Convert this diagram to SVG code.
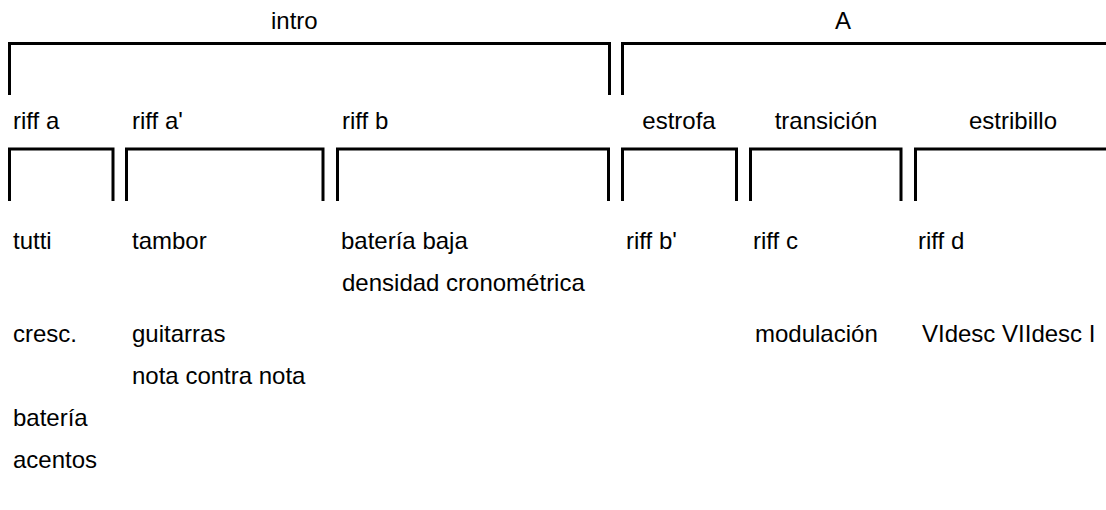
<svg xmlns="http://www.w3.org/2000/svg" width="1106" height="510" viewBox="0 0 1106 510">
  <style>
    .br { fill: none; stroke: #000; stroke-width: 3; stroke-linecap: butt; stroke-linejoin: miter; }
    text { font-family: "Liberation Sans", Arial, sans-serif; font-size: 24px; fill: #000; }
    .mid { text-anchor: middle; }
  </style>
  <rect width="1106" height="510" fill="#fff"/>

  <!-- section level -->
  <g id="sec-intro">
    <text x="271" y="29">intro</text>
    <path class="br" d="M9.5,95 V43.5 H609.5 V95"/>
  </g>
  <g id="sec-A">
    <text x="835" y="29">A</text>
    <path class="br" d="M622.5,95 V43.5 H1106"/>
  </g>

  <!-- part level -->
  <g id="riff-a">
    <text x="13" y="129">riff a</text>
    <path class="br" d="M9.5,201 V149 H113 V201"/>
    <text x="13" y="249">tutti</text>
    <text x="13" y="342">cresc.</text>
    <text x="13" y="426">batería</text>
    <text x="13" y="468">acentos</text>
  </g>
  <g id="riff-a-prime">
    <text x="132" y="129">riff a'</text>
    <path class="br" d="M126.5,201 V149 H323 V201"/>
    <text x="132" y="249">tambor</text>
    <text x="132" y="342">guitarras</text>
    <text x="132" y="384">nota contra nota</text>
  </g>
  <g id="riff-b">
    <text x="342" y="129">riff b</text>
    <path class="br" d="M337.5,201 V149 H608.5 V201"/>
    <text x="341" y="249">batería baja</text>
    <text x="342" y="291">densidad cronométrica</text>
  </g>
  <g id="estrofa">
    <text class="mid" x="679" y="129">estrofa</text>
    <path class="br" d="M622.5,201 V149 H736.5 V201"/>
    <text x="626" y="249">riff b'</text>
  </g>
  <g id="transicion">
    <text class="mid" x="826" y="129">transición</text>
    <path class="br" d="M750.5,201 V149 H901 V201"/>
    <text x="753" y="249">riff c</text>
    <text x="755" y="342">modulación</text>
  </g>
  <g id="estribillo">
    <text class="mid" x="1013" y="129">estribillo</text>
    <path class="br" d="M915.5,201 V149 H1106"/>
    <text x="918" y="249">riff d</text>
    <text x="922" y="342">VIdesc VIIdesc I</text>
  </g>

  <!-- no connectors: the bracket outlines carry the structure -->
  <g id="connectors"/>
</svg>
